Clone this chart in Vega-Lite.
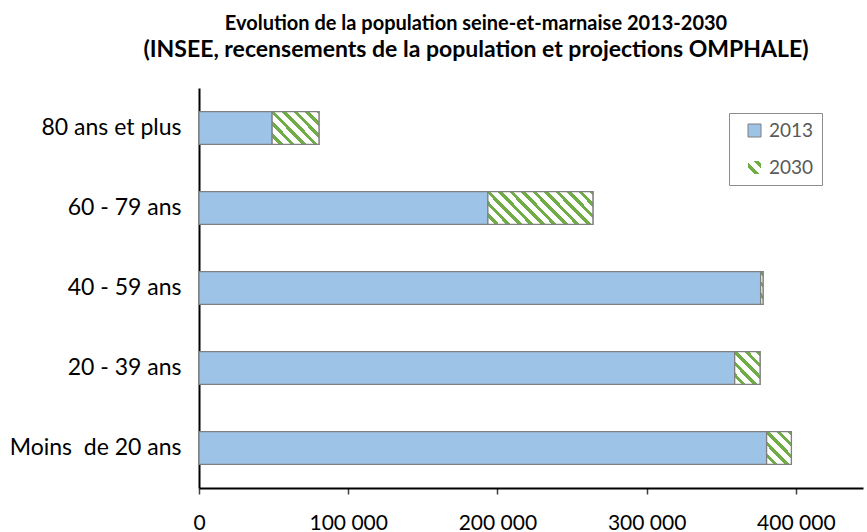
{
  "$schema": "https://vega.github.io/schema/vega-lite/v6.json",
  "autosize": {"type": "none"},
  "padding": {"left": 199, "top": 88, "right": 4, "bottom": 44},
  "width": 664,
  "height": 400,
  "background": "white",
  "config": {"view": {"stroke": null}, "font": "Lato"},
  "title": {
    "text": "Evolution de la population seine-et-marnaise 2013-2030",
    "subtitle": "(INSEE, recensements de la population et projections OMPHALE)",
    "font": "Lato", "fontSize": 20, "fontWeight": "bold", "color": "#000000",
    "subtitleFont": "Lato", "subtitleFontSize": 23, "subtitleFontWeight": "bold", "subtitleColor": "#000000", "subtitlePadding": 5,
    "anchor": "middle", "frame": "group", "dx": -55, "offset": 26
  },
  "data": {
    "values": [
      {"age": "80 ans et plus", "v2013": 49000, "v2030": 80400},
      {"age": "60 - 79 ans", "v2013": 193600, "v2030": 264000},
      {"age": "40 - 59 ans", "v2013": 376400, "v2030": 378000},
      {"age": "20 - 39 ans", "v2013": 359000, "v2030": 376000},
      {"age": "Moins\u00a0 de 20 ans", "v2013": 380400, "v2030": 397000}
    ]
  },
  "encoding": {
    "y": {
      "field": "age", "type": "nominal",
      "sort": ["80 ans et plus", "60 - 79 ans", "40 - 59 ans", "20 - 39 ans", "Moins\u00a0 de 20 ans"],
      "scale": {"paddingInner": 0.59},
      "axis": {"title": null, "ticks": false, "domainColor": "#000000", "domainWidth": 2, "labelFont": "Lato", "labelFontSize": 23, "labelColor": "#000000", "labelPadding": 18}
    }
  },
  "layer": [
    {
      "mark": {"type": "bar", "stroke": "#808080", "strokeWidth": 1.3, "fill": {"gradient": "linear", "x1": 0, "y1": 1, "x2": 1, "y2": 0, "stops": [
        {"offset": 0, "color": "#ffffff"},
        {"offset": 0.265, "color": "#ffffff"}, {"offset": 0.265, "color": "#70AD47"},
        {"offset": 0.442, "color": "#70AD47"}, {"offset": 0.442, "color": "#ffffff"},
        {"offset": 0.708, "color": "#ffffff"}, {"offset": 0.708, "color": "#70AD47"},
        {"offset": 0.885, "color": "#70AD47"}, {"offset": 0.885, "color": "#ffffff"},
        {"offset": 1, "color": "#ffffff"}
      ]}},
      "encoding": {
        "x": {
          "field": "v2013", "type": "quantitative",
          "scale": {"domain": [0, 445000], "nice": false},
          "axis": {"title": null, "values": [0, 100000, 200000, 300000, 400000], "grid": false, "domainColor": "#000000", "domainWidth": 2, "tickColor": "#404040", "tickWidth": 1.5, "tickSize": 6, "labelFlush": false, "labelFont": "Lato", "labelFontSize": 21, "labelColor": "#000000", "labelPadding": 18, "labelExpr": "replace(format(datum.value, ','), ',', ' ')"}
        },
        "x2": {"field": "v2030"},
        "opacity": {
          "datum": "2030", "type": "ordinal",
          "scale": {"domain": ["2030"], "range": [1, 1]},
          "legend": {"orient": "none", "legendX": 530, "legendY": 62, "title": null, "padding": 8, "symbolType": "square", "symbolSize": 169, "symbolStrokeColor": "#7f7f7f", "symbolStrokeWidth": 1, "labelFont": "Lato", "labelFontSize": 19, "labelColor": "#595959", "symbolOffset": 8, "labelOffset": 5}
        }
      }
    },
    {
      "mark": {"type": "bar", "stroke": "#808080", "strokeWidth": 1.3},
      "encoding": {
        "x": {"field": "v2013", "type": "quantitative"},
        "color": {
          "datum": "2013",
          "scale": {"domain": ["2013"], "range": ["#9DC3E6"]},
          "legend": {"orient": "none", "legendX": 530, "legendY": 25, "title": "\u00a0", "titleOrient": "bottom", "titleFontSize": 19, "titlePadding": 17, "strokeColor": "#8c8c8c", "padding": 8, "symbolType": "square", "symbolSize": 169, "symbolStrokeColor": "#7f7f7f", "symbolStrokeWidth": 1, "symbolOpacity": 1, "labelFont": "Lato", "labelFontSize": 19, "labelColor": "#595959", "symbolOffset": 8, "labelOffset": 5, "labelExpr": "datum.label + '\u00a0\u00a0\u00a0\u00a0\u00a0\u00a0\u00a0\u00a0'"}
        }
      }
    },
    {
      "transform": [{"filter": "datum.age === '80 ans et plus'"}],
      "mark": {"type": "bar", "stroke": "#808080", "strokeWidth": 1.3, "fill": {"gradient": "linear", "x1": 0, "y1": 1, "x2": 1.1479, "y2": 0.2168, "stops": [
        {"offset": 0, "color": "#ffffff"},
        {"offset": 0.0875, "color": "#ffffff"}, {"offset": 0.0875, "color": "#70AD47"}, {"offset": 0.1458, "color": "#70AD47"}, {"offset": 0.1458, "color": "#ffffff"},
        {"offset": 0.2332, "color": "#ffffff"}, {"offset": 0.2332, "color": "#70AD47"}, {"offset": 0.2915, "color": "#70AD47"}, {"offset": 0.2915, "color": "#ffffff"},
        {"offset": 0.3790, "color": "#ffffff"}, {"offset": 0.3790, "color": "#70AD47"}, {"offset": 0.4373, "color": "#70AD47"}, {"offset": 0.4373, "color": "#ffffff"},
        {"offset": 0.5247, "color": "#ffffff"}, {"offset": 0.5247, "color": "#70AD47"}, {"offset": 0.5830, "color": "#70AD47"}, {"offset": 0.5830, "color": "#ffffff"},
        {"offset": 0.6705, "color": "#ffffff"}, {"offset": 0.6705, "color": "#70AD47"}, {"offset": 0.7288, "color": "#70AD47"}, {"offset": 0.7288, "color": "#ffffff"},
        {"offset": 0.8162, "color": "#ffffff"}, {"offset": 0.8162, "color": "#70AD47"}, {"offset": 0.8745, "color": "#70AD47"}, {"offset": 0.8745, "color": "#ffffff"},
        {"offset": 0.9620, "color": "#ffffff"}, {"offset": 0.9620, "color": "#70AD47"}, {"offset": 1, "color": "#70AD47"}
      ]}},
      "encoding": {"x": {"field": "v2013", "type": "quantitative"}, "x2": {"field": "v2030"}}
    },
    {
      "transform": [{"filter": "datum.age === '60 - 79 ans'"}],
      "mark": {"type": "bar", "stroke": "#808080", "strokeWidth": 1.3, "fill": {"gradient": "linear", "x1": 0, "y1": 1, "x2": 1.1939, "y2": 0.6362, "stops": [
        {"offset": 0, "color": "#ffffff"},
        {"offset": 0.0504, "color": "#ffffff"}, {"offset": 0.0504, "color": "#70AD47"}, {"offset": 0.0839, "color": "#70AD47"}, {"offset": 0.0839, "color": "#ffffff"},
        {"offset": 0.1343, "color": "#ffffff"}, {"offset": 0.1343, "color": "#70AD47"}, {"offset": 0.1679, "color": "#70AD47"}, {"offset": 0.1679, "color": "#ffffff"},
        {"offset": 0.2182, "color": "#ffffff"}, {"offset": 0.2182, "color": "#70AD47"}, {"offset": 0.2518, "color": "#70AD47"}, {"offset": 0.2518, "color": "#ffffff"},
        {"offset": 0.3022, "color": "#ffffff"}, {"offset": 0.3022, "color": "#70AD47"}, {"offset": 0.3358, "color": "#70AD47"}, {"offset": 0.3358, "color": "#ffffff"},
        {"offset": 0.3861, "color": "#ffffff"}, {"offset": 0.3861, "color": "#70AD47"}, {"offset": 0.4197, "color": "#70AD47"}, {"offset": 0.4197, "color": "#ffffff"},
        {"offset": 0.4701, "color": "#ffffff"}, {"offset": 0.4701, "color": "#70AD47"}, {"offset": 0.5036, "color": "#70AD47"}, {"offset": 0.5036, "color": "#ffffff"},
        {"offset": 0.5540, "color": "#ffffff"}, {"offset": 0.5540, "color": "#70AD47"}, {"offset": 0.5876, "color": "#70AD47"}, {"offset": 0.5876, "color": "#ffffff"},
        {"offset": 0.6380, "color": "#ffffff"}, {"offset": 0.6380, "color": "#70AD47"}, {"offset": 0.6715, "color": "#70AD47"}, {"offset": 0.6715, "color": "#ffffff"},
        {"offset": 0.7219, "color": "#ffffff"}, {"offset": 0.7219, "color": "#70AD47"}, {"offset": 0.7555, "color": "#70AD47"}, {"offset": 0.7555, "color": "#ffffff"},
        {"offset": 0.8058, "color": "#ffffff"}, {"offset": 0.8058, "color": "#70AD47"}, {"offset": 0.8394, "color": "#70AD47"}, {"offset": 0.8394, "color": "#ffffff"},
        {"offset": 0.8898, "color": "#ffffff"}, {"offset": 0.8898, "color": "#70AD47"}, {"offset": 0.9234, "color": "#70AD47"}, {"offset": 0.9234, "color": "#ffffff"},
        {"offset": 0.9737, "color": "#ffffff"}, {"offset": 0.9737, "color": "#70AD47"}, {"offset": 1, "color": "#70AD47"}
      ]}},
      "encoding": {"x": {"field": "v2013", "type": "quantitative"}, "x2": {"field": "v2030"}}
    },
    {
      "transform": [{"filter": "datum.age === '40 - 59 ans'"}],
      "mark": {"type": "bar", "stroke": "#808080", "strokeWidth": 1.3, "fill": {"gradient": "linear", "x1": 0, "y1": 1, "x2": 0.0802, "y2": -0.069, "stops": [
        {"offset": 0, "color": "#ffffff"},
        {"offset": 0.2006, "color": "#ffffff"}, {"offset": 0.2006, "color": "#70AD47"}, {"offset": 0.3343, "color": "#70AD47"}, {"offset": 0.3343, "color": "#ffffff"},
        {"offset": 0.5349, "color": "#ffffff"}, {"offset": 0.5349, "color": "#70AD47"}, {"offset": 0.6686, "color": "#70AD47"}, {"offset": 0.6686, "color": "#ffffff"},
        {"offset": 0.8692, "color": "#ffffff"}, {"offset": 0.8692, "color": "#70AD47"}, {"offset": 1, "color": "#70AD47"}
      ]}},
      "encoding": {"x": {"field": "v2013", "type": "quantitative"}, "x2": {"field": "v2030"}}
    },
    {
      "transform": [{"filter": "datum.age === '20 - 39 ans'"}],
      "mark": {"type": "bar", "stroke": "#808080", "strokeWidth": 1.3, "fill": {"gradient": "linear", "x1": 0, "y1": 1, "x2": 0.8735, "y2": -0.1004, "stops": [
        {"offset": 0, "color": "#ffffff"},
        {"offset": 0.1202, "color": "#ffffff"}, {"offset": 0.1202, "color": "#70AD47"}, {"offset": 0.2003, "color": "#70AD47"}, {"offset": 0.2003, "color": "#ffffff"},
        {"offset": 0.3206, "color": "#ffffff"}, {"offset": 0.3206, "color": "#70AD47"}, {"offset": 0.4007, "color": "#70AD47"}, {"offset": 0.4007, "color": "#ffffff"},
        {"offset": 0.5209, "color": "#ffffff"}, {"offset": 0.5209, "color": "#70AD47"}, {"offset": 0.6010, "color": "#70AD47"}, {"offset": 0.6010, "color": "#ffffff"},
        {"offset": 0.7213, "color": "#ffffff"}, {"offset": 0.7213, "color": "#70AD47"}, {"offset": 0.8014, "color": "#70AD47"}, {"offset": 0.8014, "color": "#ffffff"},
        {"offset": 0.9216, "color": "#ffffff"}, {"offset": 0.9216, "color": "#70AD47"}, {"offset": 1, "color": "#70AD47"}
      ]}},
      "encoding": {"x": {"field": "v2013", "type": "quantitative"}, "x2": {"field": "v2030"}}
    },
    {
      "transform": [{"filter": "indexof(datum.age, 'Moins') === 0"}],
      "mark": {"type": "bar", "stroke": "#808080", "strokeWidth": 1.3, "fill": {"gradient": "linear", "x1": 0, "y1": 1, "x2": 0.8594, "y2": -0.109, "stops": [
        {"offset": 0, "color": "#ffffff"},
        {"offset": 0.1215, "color": "#ffffff"}, {"offset": 0.1215, "color": "#70AD47"}, {"offset": 0.2025, "color": "#70AD47"}, {"offset": 0.2025, "color": "#ffffff"},
        {"offset": 0.3239, "color": "#ffffff"}, {"offset": 0.3239, "color": "#70AD47"}, {"offset": 0.4049, "color": "#70AD47"}, {"offset": 0.4049, "color": "#ffffff"},
        {"offset": 0.5264, "color": "#ffffff"}, {"offset": 0.5264, "color": "#70AD47"}, {"offset": 0.6074, "color": "#70AD47"}, {"offset": 0.6074, "color": "#ffffff"},
        {"offset": 0.7289, "color": "#ffffff"}, {"offset": 0.7289, "color": "#70AD47"}, {"offset": 0.8099, "color": "#70AD47"}, {"offset": 0.8099, "color": "#ffffff"},
        {"offset": 0.9313, "color": "#ffffff"}, {"offset": 0.9313, "color": "#70AD47"}, {"offset": 1, "color": "#70AD47"}
      ]}},
      "encoding": {"x": {"field": "v2013", "type": "quantitative"}, "x2": {"field": "v2030"}}
    }
  ]
}
